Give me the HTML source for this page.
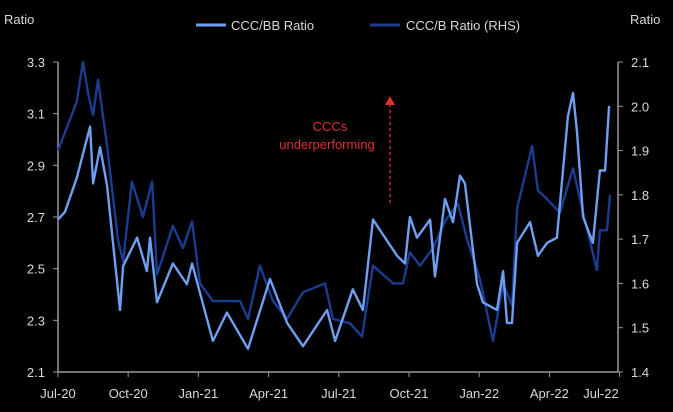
<!DOCTYPE html>
<html><head><meta charset="utf-8"><style>
body{margin:0;background:#000;}
svg{display:block;font-family:"Liberation Sans",sans-serif;}
</style></head><body>
<svg width="673" height="412" viewBox="0 0 673 412">
<rect width="673" height="412" fill="#000"/>
<g id="axes"></g>
<g id="series"></g>
<text x="4" y="24" fill="#d9d9d9" font-size="13">Ratio</text>
<text x="630" y="24" fill="#d9d9d9" font-size="13">Ratio</text>
<g>
<line x1="196" y1="25" x2="226" y2="25" stroke="#6f9ff0" stroke-width="3"/>
<text x="231" y="30" fill="#d9d9d9" font-size="13">CCC/BB Ratio</text>
<line x1="370" y1="25" x2="400" y2="25" stroke="#1b3c8f" stroke-width="3"/>
<text x="406" y="30" fill="#d9d9d9" font-size="13">CCC/B Ratio (RHS)</text>
</g>
<text x="330" y="131" fill="#e03030" font-size="13" text-anchor="middle">CCCs</text>
<text x="327" y="149" fill="#e03030" font-size="13" text-anchor="middle">underperforming</text>
<line x1="390" y1="203" x2="390" y2="104" stroke="#e03030" stroke-width="1.3" stroke-dasharray="3,3"/>
<polygon points="385,105 395,105 390,96" fill="#e03030"/>
</svg>
<script>
const xLabels=["Jul-20","Oct-20","Jan-21","Apr-21","Jul-21","Oct-21","Jan-22","Apr-22","Jul-22"];
const leftTicks=[2.1,2.3,2.5,2.7,2.9,3.1,3.3];
const rightTicks=[1.4,1.5,1.6,1.7,1.8,1.9,2.0,2.1];
const bbMonths=[0,0.3,0.8,1.37,1.5,1.8,2.1,2.65,2.78,3.38,3.8,3.93,4.23,4.91,5.51,5.73,6.62,7.22,8.12,9.06,9.79,10.47,11.5,11.84,12.6,13.03,13.46,14.49,14.83,15.04,15.34,15.9,16.11,16.54,16.88,17.18,17.39,17.91,18.16,18.76,19.02,19.19,19.4,19.62,20.17,20.51,20.9,21.32,21.79,22.01,22.18,22.44,22.86,23.16,23.38,23.55];
const bbValues=[2.69,2.72,2.85,3.05,2.83,2.97,2.82,2.34,2.51,2.62,2.49,2.62,2.37,2.52,2.44,2.52,2.22,2.33,2.19,2.46,2.29,2.20,2.34,2.22,2.42,2.34,2.69,2.55,2.52,2.70,2.62,2.69,2.47,2.77,2.68,2.86,2.83,2.44,2.37,2.34,2.49,2.29,2.29,2.60,2.68,2.55,2.60,2.62,3.09,3.18,3.03,2.70,2.60,2.88,2.88,3.13];
const bMonths=[0,0.8,1.07,1.28,1.5,1.71,2.1,2.56,2.78,3.16,3.63,4.02,4.23,4.91,5.34,5.73,6.07,6.62,7.78,8.12,8.63,9.19,9.79,10.47,11.41,11.75,12.48,12.99,13.46,14.32,14.74,15.04,15.47,16.03,16.54,17.09,17.48,18.03,18.59,19.02,19.4,19.62,20.26,20.51,20.9,21.45,22.01,22.44,23.03,23.16,23.46,23.59];
const bValues=[1.90,2.01,2.10,2.03,1.98,2.06,1.91,1.70,1.65,1.83,1.75,1.83,1.62,1.73,1.68,1.74,1.60,1.56,1.56,1.52,1.64,1.56,1.52,1.58,1.60,1.52,1.51,1.48,1.64,1.60,1.60,1.67,1.64,1.68,1.74,1.78,1.70,1.61,1.47,1.60,1.55,1.77,1.91,1.81,1.79,1.76,1.86,1.76,1.63,1.72,1.72,1.80];

const NS="http://www.w3.org/2000/svg";
const X0=58,X1=618,YT=62,YB=372,PXM=23.4;
const xS=m=>X0+m*PXM;
const yL=v=>YB-(v-2.1)/(3.3-2.1)*(YB-YT);
const yR=v=>YB-(v-1.4)/(2.1-1.4)*(YB-YT);
function mk(tag,attrs,parent){const e=document.createElementNS(NS,tag);for(const k in attrs)e.setAttribute(k,attrs[k]);parent.appendChild(e);return e;}
const axes=document.getElementById('axes'),series=document.getElementById('series');
let e;
e=mk('line',{x1:X0,y1:YT,x2:X0,y2:YB,stroke:'#999','stroke-width':1.5},axes);


e=mk('line',{x1:X1,y1:YT,x2:X1,y2:YB,stroke:'#999','stroke-width':1.5},axes);


e=mk('line',{x1:X0,y1:YB,x2:X1,y2:YB,stroke:'#999','stroke-width':1.5},axes);


leftTicks.forEach(v=>{
  mk('line',{x1:X0-5,y1:yL(v),x2:X0,y2:yL(v),stroke:'#999'},axes);
  const t=mk('text',{x:X0-13,y:yL(v)+5,fill:'#d9d9d9','font-size':13,'text-anchor':'end'},axes);
  t.textContent=v.toFixed(1);
  
  
});
rightTicks.forEach(v=>{
  mk('line',{x1:X1,y1:yR(v),x2:X1+5,y2:yR(v),stroke:'#999'},axes);
  const t=mk('text',{x:X1+13,y:yR(v)+5,fill:'#d9d9d9','font-size':13},axes);
  t.textContent=v.toFixed(1);
  
  
});
xLabels.forEach((l,i)=>{
  let x=xS(i*3);
  mk('line',{x1:x,y1:YB,x2:x,y2:YB+5,stroke:'#999'},axes);
  if(i===xLabels.length-1)x=601;
  const t=mk('text',{x:x,y:398,fill:'#d9d9d9','font-size':13,'text-anchor':'middle'},axes);
  t.textContent=l;
  
  
});
function line(ms,vs,ys,color,name){
  const d=ms.map((m,i)=>(i?'L':'M')+xS(m).toFixed(1)+','+ys(vs[i]).toFixed(1)).join('');
  const p=mk('path',{d:d,fill:'none',stroke:color,'stroke-width':2.4,'stroke-linejoin':'round'},series);
  
  
}
line(bMonths,bValues,yR,'#1b3c8f','ccc-b-ratio-line');
line(bbMonths,bbValues,yL,'#6f9ff0','ccc-bb-ratio-line');
</script>
</body></html>
